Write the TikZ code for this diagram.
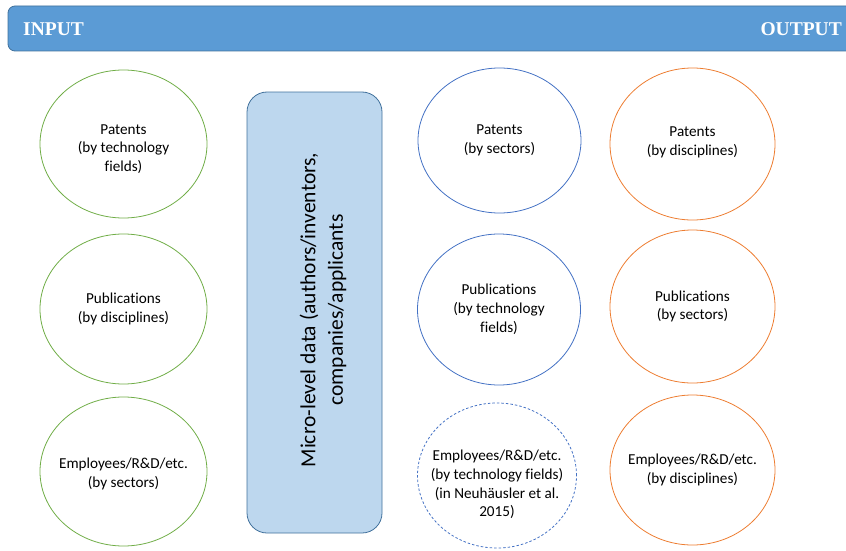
\documentclass[tikz,border=0pt]{standalone}
\usepackage{fontspec}
\setmainfont[Ligatures={NoCommon}]{Carlito}
\newfontfamily\hdrfont{Liberation Serif}
\usetikzlibrary{shapes.geometric}
\definecolor{hdrfill}{HTML}{5B9BD5}
\definecolor{hdrline}{HTML}{41719C}
\definecolor{boxfill}{HTML}{BDD7EE}
\definecolor{ingreen}{HTML}{70AD47}
\definecolor{midblue}{HTML}{4472C4}
\definecolor{outorange}{HTML}{ED7D31}
\begin{document}
\begin{tikzpicture}[x=1pt,y=-1pt,
  ell/.style={ellipse, draw, line width=0.8pt, inner sep=0pt},
  gr/.style={ell, draw=ingreen},
  bl/.style={ell, draw=midblue},
  bld/.style={ell, draw=midblue, dash pattern=on 2.5pt off 2pt},
  og/.style={ell, draw=outorange},
  lbl/.style={align=center, font=\fontsize{15.2}{18.8}\selectfont, inner sep=0pt},
  hdrtext/.style={text=white, font=\hdrfont\bfseries\fontsize{19.5}{22}\selectfont, inner sep=0pt}]
\useasboundingbox (0,0) rectangle (846,551);
% header bar
\draw[hdrline, fill=hdrfill, line width=0.8pt, rounded corners=7pt] (8,6) rectangle (870,51);
\node[hdrtext, anchor=west] (input) at (23,29.5) {INPUT};
\node[hdrtext, anchor=east] (output) at (842,29.5) {OUTPUT};
% central box
\node[draw=hdrline, fill=boxfill, line width=0.8pt, rounded corners=20pt,
  minimum width=135pt, minimum height=441pt, inner sep=0pt] (micro) at (314.5,312.5) {};
\node[rotate=90, align=center, font=\fontsize{21.5}{27.5}\selectfont, inner sep=0pt] (microtext) at (323,310)
  {Micro-level data (authors/inventors,\\companies/applicants};
% input ellipses
\node[gr, minimum width=167pt, minimum height=148pt] (in1) at (123.5,144) {};
\node[lbl] (in1t) at ([yshift=-5pt]in1.center) {Patents\\(by technology\\fields)};
\node[gr, minimum width=167pt, minimum height=150pt] (in2) at (123.5,309) {};
\node[lbl] (in2t) at (in2) {Publications\\(by disciplines)};
\node[gr, minimum width=167pt, minimum height=149pt] (in3) at (123.5,471.5) {};
\node[lbl] (in3t) at ([yshift=-2.5pt]in3.center) {Employees/R\&D/etc.\\(by sectors)};
% middle ellipses
\node[bl, minimum width=163pt, minimum height=145pt] (m1) at (499.5,140.5) {};
\node[lbl] (m1t) at (m1) {Patents\\(by sectors)};
\node[bl, minimum width=163pt, minimum height=151pt] (m2) at (499,309.5) {};
\node[lbl] (m2t) at (m2) {Publications\\(by technology\\fields)};
\node[bld, minimum width=159pt, minimum height=145pt] (m3) at (497,475.5) {};
\node[lbl] (m3t) at ([yshift=-9pt]m3.center) {Employees/R\&D/etc.\\(by technology fields)\\(in Neuhäusler et al.\\2015)};
% output ellipses
\node[og, minimum width=165pt, minimum height=152pt] (o1) at (692.5,144) {};
\node[lbl] (o1t) at ([yshift=1.5pt]o1.center) {Patents\\(by disciplines)};
\node[og, minimum width=165pt, minimum height=153pt] (o2) at (692.5,306.5) {};
\node[lbl] (o2t) at (o2) {Publications\\(by sectors)};
\node[og, minimum width=165pt, minimum height=150pt] (o3) at (692.5,470) {};
\node[lbl] (o3t) at (o3) {Employees/R\&D/etc.\\(by disciplines)};
\end{tikzpicture}
\end{document}
